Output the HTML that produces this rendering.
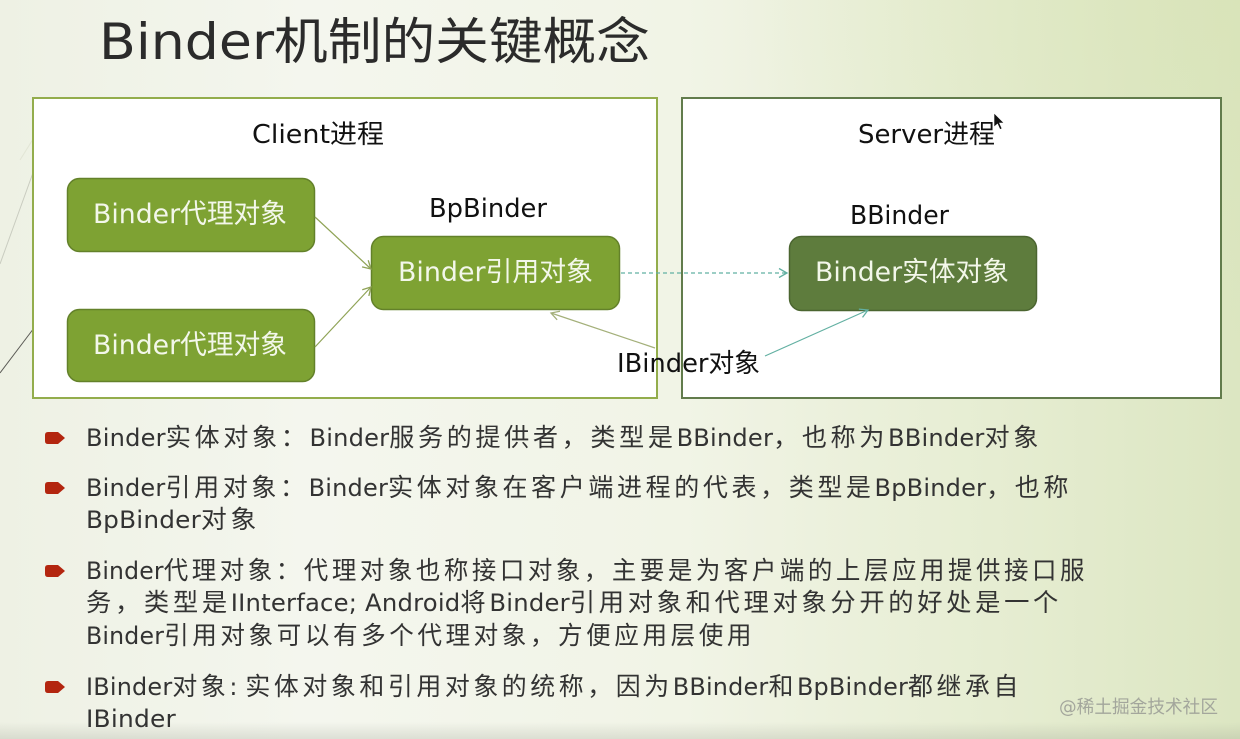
<!DOCTYPE html>
<html>
<head>
<meta charset="utf-8">
<style>
html,body{margin:0;padding:0;}
body{width:1240px;height:739px;overflow:hidden;position:relative;
background:linear-gradient(90deg,#eef1e4 0%,#f4f6ee 25%,#f1f4e6 55%,#e6edd2 80%,#dce6c2 100%);}
#ov{position:absolute;left:0;top:0;width:1240px;height:739px;
background:radial-gradient(ellipse 500px 400px at 1240px 0px,rgba(214,226,178,0.55),rgba(214,226,178,0) 100%),
linear-gradient(180deg,rgba(0,0,0,0) 0px,rgba(0,0,0,0) 722px,rgba(150,155,140,0.25) 739px);}
svg{position:absolute;left:0;top:0;}
.t{position:absolute;white-space:nowrap;transform-origin:0 50%;
font-family:"DejaVu Sans","Noto Sans CJK SC",sans-serif;}
.b{font-size:25px;line-height:32px;color:#333333;letter-spacing:3.6px;left:86px;}
.l{letter-spacing:0.2px;font-size:24px;}
.lab{font-size:26px;line-height:30px;color:#111;}
.nd{font-size:27px;line-height:34px;color:#f3f7ea;}
.mk{position:absolute;left:45px;width:20px;height:12px;}
</style>
</head>
<body>
<div id="ov"></div>
<svg width="1240" height="739" viewBox="0 0 1240 739">
  <defs>
    <marker id="ao" markerWidth="12" markerHeight="12" refX="10" refY="6" orient="auto" markerUnits="userSpaceOnUse">
      <path d="M2,1.5 L10,6 L2,10.5" fill="none" stroke="#8fa356" stroke-width="1.3"/>
    </marker>
    <marker id="at" markerWidth="12" markerHeight="12" refX="10" refY="6" orient="auto" markerUnits="userSpaceOnUse">
      <path d="M2,1.5 L10,6 L2,10.5" fill="none" stroke="#62b0a2" stroke-width="1.3"/>
    </marker>
    <marker id="ak" markerWidth="12" markerHeight="12" refX="10" refY="6" orient="auto" markerUnits="userSpaceOnUse">
      <path d="M2,1.5 L10,6 L2,10.5" fill="none" stroke="#a4b07a" stroke-width="1.3"/>
    </marker>
  </defs>
  <line x1="0" y1="264" x2="34" y2="170" stroke="#c9ccc0" stroke-width="1"/>
  <line x1="0" y1="373" x2="34" y2="328" stroke="#5a5a55" stroke-width="1"/>
  <line x1="20" y1="160" x2="50" y2="112" stroke="#e2e6d6" stroke-width="1"/>

  <rect x="33" y="98" width="624" height="300" fill="#ffffff" stroke="#93ad4c" stroke-width="2"/>
  <rect x="682" y="98" width="539" height="300" fill="#ffffff" stroke="#627c4c" stroke-width="2"/>

  <rect x="67.5" y="178.5" width="247" height="73" rx="12" fill="#7ea233" stroke="#63812a" stroke-width="1.5"/>
  <rect x="67.5" y="309.5" width="247" height="72" rx="12" fill="#7ea233" stroke="#63812a" stroke-width="1.5"/>
  <rect x="371.5" y="236.5" width="248" height="73" rx="12" fill="#7ea233" stroke="#63812a" stroke-width="1.5"/>
  <rect x="789.5" y="236.5" width="247" height="74" rx="12" fill="#5e7c3d" stroke="#4b6530" stroke-width="1.5"/>

  <line x1="315" y1="217" x2="371" y2="269" stroke="#8fa356" stroke-width="1.2" marker-end="url(#ao)"/>
  <line x1="315" y1="347" x2="371" y2="287" stroke="#8fa356" stroke-width="1.2" marker-end="url(#ao)"/>
  <line x1="621" y1="273" x2="787" y2="273" stroke="#62b0a2" stroke-width="1.2" stroke-dasharray="4,3" marker-end="url(#at)"/>
  <line x1="655" y1="348" x2="551" y2="313" stroke="#a4b07a" stroke-width="1.2" marker-end="url(#ak)"/>
  <line x1="765" y1="356" x2="868" y2="310" stroke="#62b0a2" stroke-width="1.2" marker-end="url(#at)"/>

  <polygon points="994,113 994,127 997.5,124 1000,129.5 1002,128.5 999.5,123 1004,123" fill="#111" stroke="#fff" stroke-width="0.6"/>
</svg>

<div class="t" id="title" style="left:99px;top:12px;font-size:50px;line-height:60px;color:#2b2b2b;">Binder机制的关键概念</div>

<div class="t lab" id="c1" style="left:252px;top:120px;">Client进程</div>
<div class="t lab" id="c2" style="left:858px;top:120px;">Server进程</div>
<div class="t lab" id="c3" style="left:429px;top:194px;">BpBinder</div>
<div class="t lab" id="c4" style="left:850px;top:201px;">BBinder</div>
<div class="t lab" id="c5" style="left:617px;top:349px;">IBinder对象</div>

<div class="t nd" id="n1" style="left:93px;top:198px;">Binder代理对象</div>
<div class="t nd" id="n2" style="left:93px;top:329px;">Binder代理对象</div>
<div class="t nd" id="n3" style="left:398px;top:256px;">Binder引用对象</div>
<div class="t nd" id="n4" style="left:815px;top:256px;">Binder实体对象</div>

<svg class="mk" style="top:432px;" width="20" height="12" viewBox="0 0 20 12"><path d="M3,0 H13 L20,6 L13,12 H3 Q0,12 0,9 V3 Q0,0 3,0Z" fill="#b3260f"/></svg>
<svg class="mk" style="top:482px;" width="20" height="12" viewBox="0 0 20 12"><path d="M3,0 H13 L20,6 L13,12 H3 Q0,12 0,9 V3 Q0,0 3,0Z" fill="#b3260f"/></svg>
<svg class="mk" style="top:565px;" width="20" height="12" viewBox="0 0 20 12"><path d="M3,0 H13 L20,6 L13,12 H3 Q0,12 0,9 V3 Q0,0 3,0Z" fill="#b3260f"/></svg>
<svg class="mk" style="top:681px;" width="20" height="12" viewBox="0 0 20 12"><path d="M3,0 H13 L20,6 L13,12 H3 Q0,12 0,9 V3 Q0,0 3,0Z" fill="#b3260f"/></svg>

<div class="t b" id="b1" style="top:422px;"><span class="l">Binder</span>实体对象：<span class="l">Binder</span>服务的提供者，类型是<span class="l">BBinder</span>，也称为<span class="l">BBinder</span>对象</div>
<div class="t b" id="b2" style="top:472px;"><span class="l">Binder</span>引用对象：<span class="l">Binder</span>实体对象在客户端进程的代表，类型是<span class="l">BpBinder</span>，也称</div>
<div class="t b" id="b3" style="top:504px;"><span class="l">BpBinder</span>对象</div>
<div class="t b" id="b4" style="top:555px;"><span class="l">Binder</span>代理对象：代理对象也称接口对象，主要是为客户端的上层应用提供接口服</div>
<div class="t b" id="b5" style="top:587px;">务，类型是<span class="l">IInterface; Android</span>将<span class="l">Binder</span>引用对象和代理对象分开的好处是一个</div>
<div class="t b" id="b6" style="top:620px;"><span class="l">Binder</span>引用对象可以有多个代理对象，方便应用层使用</div>
<div class="t b" id="b7" style="top:671px;"><span class="l">IBinder</span>对象<span class="l">: </span>实体对象和引用对象的统称，因为<span class="l">BBinder</span>和<span class="l">BpBinder</span>都继承自</div>
<div class="t b" id="b8" style="top:703px;"><span class="l">IBinder</span></div>

<div class="t" id="wm" style="left:1059px;top:696px;font-size:18px;line-height:24px;color:#a3a69c;">@稀土掘金技术社区</div>

<script>
(function(){
  var targets=[["title",551],["c1",132],["c2",137],["c3",118],["c4",99],["c5",143],
    ["n1",194],["n2",194],["n3",195],["n4",194],
    ["b1",956],["b2",986],["b3",174],["b4",1002],["b5",976],["b6",669],["b7",936],["b8",90],
    ["wm",159]];
  function fit(){
    for(var i=0;i<targets.length;i++){
      var el=document.getElementById(targets[i][0]);
      if(!el) continue;
      el.style.transform="none";
      var w=el.getBoundingClientRect().width;
      if(w>0){
        var s=targets[i][1]/w;
        if(s>0.6&&s<1.6) el.style.transform="scaleX("+s+")";
      }
    }
  }
  fit();
  if(document.fonts&&document.fonts.ready){document.fonts.ready.then(fit);}
  window.addEventListener("load",fit);
})();
</script>
</body>
</html>
